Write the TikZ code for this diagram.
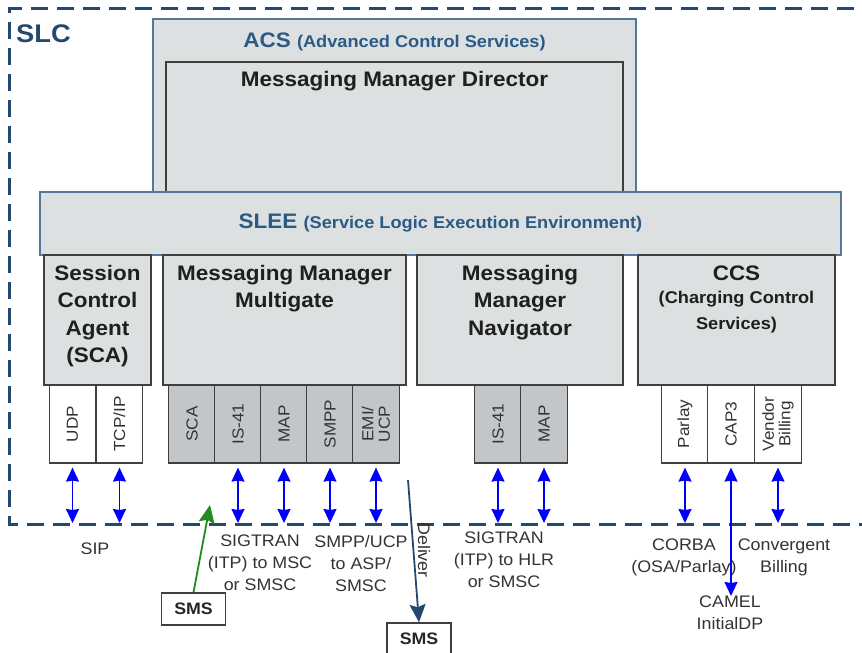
\documentclass[tikz,border=0pt]{standalone}
\usepackage{fontspec}
\setmainfont{Liberation Sans}[FakeStretch=1.07]
\usetikzlibrary{arrows.meta}
\definecolor{slcblue}{HTML}{24496E}
\definecolor{acsblue}{HTML}{2C5A85}
\definecolor{boxfill}{HTML}{DDE0E1}
\definecolor{subfill}{HTML}{C2C6C8}
\definecolor{boxline}{HTML}{3F3F3F}
\definecolor{acsline}{HTML}{54779A}
\definecolor{txtgray}{HTML}{333333}
\definecolor{arrblue}{HTML}{0000FF}
\definecolor{smsgreen}{HTML}{1E8C1E}
\newcommand{\fs}[2]{\fontsize{#1}{#2}\selectfont}
\tikzset{
  bluetip/.tip={Stealth[length=14pt,width=13pt,inset=1pt]},
  bigbox/.style={draw=boxline, line width=1.4pt, fill=boxfill, inner sep=0pt},
  outerbox/.style={draw=acsline, line width=1.1pt, fill=boxfill, inner sep=0pt},
  subbox/.style={draw=boxline, line width=1.2pt, inner sep=0pt, minimum width=46.5pt, minimum height=78pt},
  subgray/.style={subbox, fill=subfill},
  subwhite/.style={subbox, fill=white},
  subtxt/.style={rotate=90, inner sep=0pt, text=txtgray, font=\fs{16}{16.5}, align=center},
  ttl/.style={inner sep=0pt, align=center, font=\bfseries\fs{21}{27.5}, text=black!88},
  lbl/.style={inner sep=0pt, align=center, font=\fs{16.7}{22}, text=txtgray},
  biarrow/.style={draw=arrblue, line width=1.5pt, {bluetip}-{bluetip}},
  bigtip/.style={-{Stealth[length=18pt,width=16pt,inset=3pt]}, line width=1.8pt},
  smsbox/.style={draw=boxline, line width=1.4pt, fill=white, inner sep=0pt, minimum width=64pt, minimum height=32pt, font=\bfseries\fs{16.6}{18}, text=black!85},
}
\begin{document}
\begin{tikzpicture}[x=1pt, y=-1pt]
\useasboundingbox (0,0) rectangle (862,653);
\clip (0,0) rectangle (862,653);
% SLC dashed frame
\draw[slcblue, line width=2.8pt, dash pattern=on 17pt off 9pt] (880,8.5) -- (9.5,8.5) -- (9.5,524.5) -- (880,524.5);
\node[anchor=west, inner sep=0pt, font=\bfseries\fs{25.5}{25.5}, text=slcblue] (slc) at (16,34) {SLC};
% ACS
\node[outerbox, minimum width=483pt, minimum height=173pt] (acs) at (394.5,105.5) {};
\node[inner sep=0pt, text=acsblue] (acst) at (394.5,41.5) {\bfseries\fs{21}{21}ACS \fs{17}{17}(Advanced Control Services)};
\node[bigbox, minimum width=457pt, minimum height=130pt] (mmd) at (394.5,127) {};
\node[ttl] (mmdt) at (394.5,81.5) {Messaging Manager Director};
% SLEE
\node[outerbox, minimum width=801pt, minimum height=63pt] (slee) at (440.5,223.5) {};
\node[inner sep=0pt, text=acsblue] (sleet) at (440.5,223) {\bfseries\fs{21}{21}SLEE \fs{17}{17}(Service Logic Execution Environment)};
% lower component boxes
\node[bigbox, minimum width=107pt, minimum height=130pt] (sca) at (97.5,320) {};
\node[ttl, anchor=north] (scat) at (97.5,265) {Session\\Control\\Agent\\(SCA)};
\node[bigbox, minimum width=243pt, minimum height=130pt] (mmm) at (284.5,320) {};
\node[ttl, anchor=north] (mmmt) at (284.5,265) {Messaging Manager\\Multigate};
\node[bigbox, minimum width=206pt, minimum height=130pt] (mmn) at (520,320) {};
\node[ttl, anchor=north] (mmnt) at (520,265) {Messaging\\Manager\\Navigator};
\node[bigbox, minimum width=197pt, minimum height=130pt] (ccs) at (736.5,320) {};
\node[ttl, anchor=north] (ccst) at (736.5,265.5) {CCS};
\node[ttl, anchor=north, font=\bfseries\fs{17}{26}] (ccst2) at (736.5,290.5) {(Charging Control\\Services)};
% sub boxes
\node[subwhite] (udp) at (72.5,424) {};
\node[subtxt] (udpt) at (udp) {UDP};
\node[subwhite] (tcp) at (119.5,424) {};
\node[subtxt] (tcpt) at (tcp) {TCP/IP};
\node[subgray] (msca) at (192,424) {};
\node[subtxt] (mscat) at (msca) {SCA};
\node[subgray] (mis) at (238,424) {};
\node[subtxt] (mist) at (mis) {IS-41};
\node[subgray] (mmap) at (284,424) {};
\node[subtxt] (mmapt) at (mmap) {MAP};
\node[subgray] (smpp) at (330,424) {};
\node[subtxt] (smppt) at (smpp) {SMPP};
\node[subgray] (emi) at (376,424) {};
\node[subtxt] (emit) at (emi) {EMI/\\UCP};
\node[subgray] (nis) at (498,424) {};
\node[subtxt] (nist) at (nis) {IS-41};
\node[subgray] (nmap) at (544,424) {};
\node[subtxt] (nmapt) at (nmap) {MAP};
\node[subwhite] (parl) at (685,424) {};
\node[subtxt] (parlt) at (parl) {Parlay};
\node[subwhite] (cap) at (731,424) {};
\node[subtxt] (capt) at (cap) {CAP3};
\node[subwhite] (vend) at (778,424) {};
\node[subtxt] (vendt) at (vend) {Vendor\\Billing};
% dashed line level
\coordinate (dl) at (0,523);
% double arrows
\foreach \n in {udp,tcp,mis,mmap,smpp,emi,nis,nmap,parl,vend}{
  \draw[biarrow] ([yshift=-4pt]\n.south) -- (\n.south |- dl);
}
% labels
\node[lbl] (sip) at (95,549) {SIP};
\node[lbl, anchor=north] (sig1) at (260,535) {SIGTRAN\\(ITP) to MSC\\or SMSC};
\node[lbl, anchor=north] (smppl) at (361,535) {SMPP/UCP\\to ASP/\\SMSC};
\node[lbl, anchor=north] (sig2) at (504,532) {SIGTRAN\\(ITP) to HLR\\or SMSC};
\node[lbl, anchor=north] (corba) at (684,539) {CORBA\\(OSA/Parlay)};
\node[lbl, anchor=north] (conv) at (784,539) {Convergent\\Billing};
\node[lbl, anchor=north] (camel) at (730,596) {CAMEL\\InitialDP};
\draw[biarrow] ([yshift=-4pt]cap.south) -- (camel.north -| cap.south);
% SMS boxes
\node[smsbox] (sms1) at (193.5,609) {SMS};
\coordinate (greenend) at (210,505);
\draw[smsgreen, bigtip] (sms1.north) -- (greenend);
\node[smsbox] (sms2) at (419,639) {SMS};
\coordinate (delstart) at (408,480);
\draw[slcblue, bigtip] (delstart) -- (sms2.north);
\node[lbl, rotate=-90] (deliver) at (424,550) {Deliver};
\end{tikzpicture}
\end{document}
